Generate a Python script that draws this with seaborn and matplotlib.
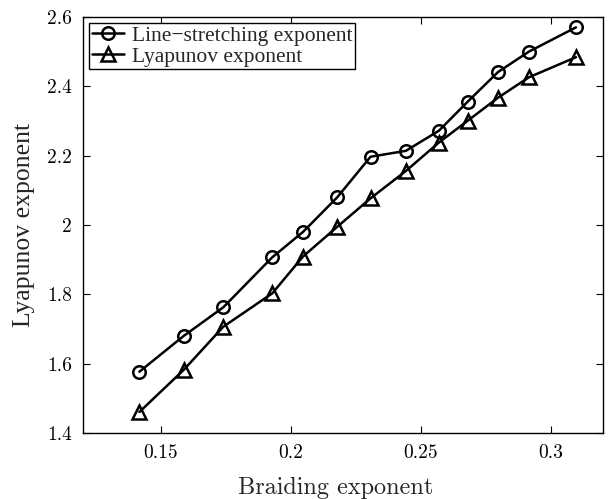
import numpy as np
import pandas as pd
import matplotlib
matplotlib.use('Agg')
import matplotlib.pyplot as plt
import seaborn as sns

# values
braiding = [0.1417, 0.1587, 0.174, 0.1928, 0.2046, 0.2178, 0.2306,
            0.2442, 0.2569, 0.268, 0.2796, 0.2915, 0.3096]
line_stretch = [1.577, 1.680, 1.763, 1.907, 1.980, 2.080, 2.197,
                2.214, 2.272, 2.356, 2.441, 2.500, 2.570]
lyapunov = [1.461, 1.582, 1.707, 1.803, 1.909, 1.995, 2.077,
            2.156, 2.238, 2.301, 2.367, 2.426, 2.484]
x_ticks = [0.15, 0.2, 0.25, 0.3]
x_tick_labels = ['0.15', '0.2', '0.25', '0.3']
y_ticks = [1.4, 1.6, 1.8, 2.0, 2.2, 2.4, 2.6]
y_tick_labels = ['1.4', '1.6', '1.8', '2', '2.2', '2.4', '2.6']

sns.set_style('white')
plt.rcParams['font.family'] = ['Liberation Serif', 'DejaVu Serif']

df = pd.DataFrame({'Braiding': braiding,
                   'Line−stretching exponent': line_stretch,
                   'Lyapunov exponent': lyapunov})

fig = plt.figure(figsize=(6.1, 4.99), dpi=100)
ax = fig.add_axes([0.136, 0.132, 0.8525, 0.834])

#draw both series
sns.lineplot(data=df, x='Braiding', y='Line−stretching exponent', ax=ax,
             color='black', lw=1.8, marker='o', markersize=9,
             markerfacecolor='none', markeredgecolor='black', markeredgewidth=1.8,
             label='Line−stretching exponent')
sns.lineplot(data=df, x='Braiding', y='Lyapunov exponent', ax=ax,
             color='black', lw=1.8, marker='^', markersize=10,
             markerfacecolor='none', markeredgecolor='black', markeredgewidth=1.8,
             label='Lyapunov exponent')

ax.set_xlim(0.12, 0.32)
ax.set_ylim(1.4, 2.6)
ax.set_xticks(x_ticks)
ax.set_xticklabels(x_tick_labels, family='cmr10', fontsize=14)
ax.set_yticks(y_ticks)
ax.set_yticklabels(y_tick_labels, family='cmr10', fontsize=14)
ax.tick_params(direction='in', length=5, width=0.8, top=True, right=True,
               bottom=True, left=True, pad=8, colors='black')

for sp in ax.spines.values():
    sp.set_visible(True)
    sp.set_color('black')
    sp.set_linewidth(1.0)

ax.set_xlabel('Braiding exponent', family='cmr10', fontsize=17.5, va='baseline')
ax.xaxis.set_label_coords(0.486, -0.147)
ax.set_ylabel('Lyapunov exponent', family='Liberation Serif', fontsize=18.5, va='center')
ax.yaxis.set_label_coords(-0.113, 0.5)

leg = ax.legend(loc='upper left', fontsize=15.5, frameon=True, fancybox=False,
                edgecolor='black', framealpha=1, handlelength=1.5,
                handletextpad=0.4, borderpad=0.1, labelspacing=0.05,
                borderaxespad=0.3)
leg.get_frame().set_linewidth(1.0)

fig.savefig('out.png', dpi=100)
